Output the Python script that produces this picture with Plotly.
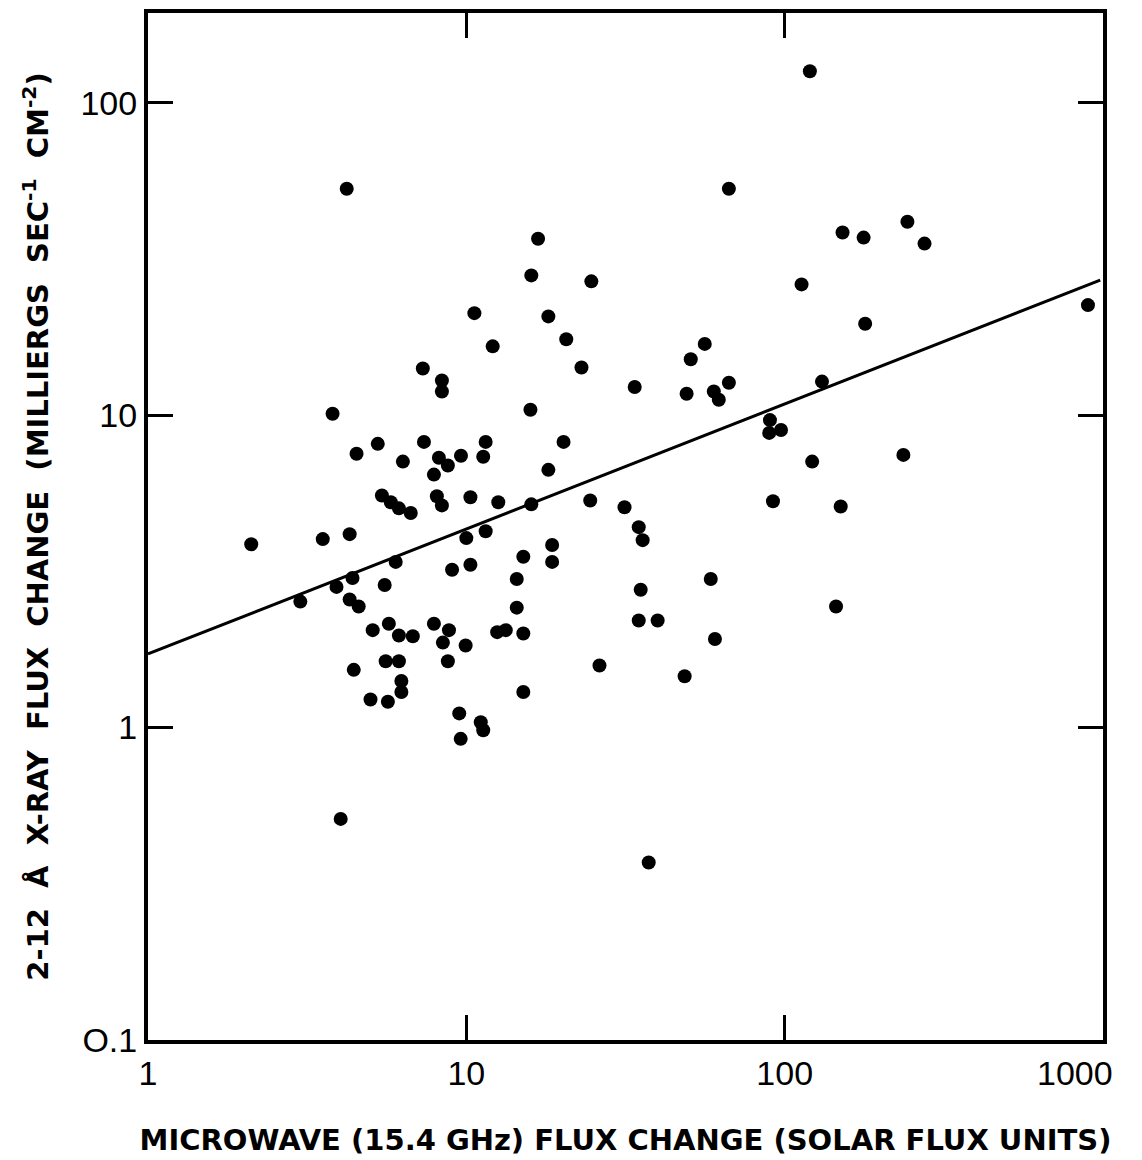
import plotly.graph_objects as go

microwave_sfu = [120, 4.21, 66.8, 243, 152, 177, 275, 16.8, 16.0, 24.7, 113, 897, 10.6, 18.1, 179,
                 20.6, 56.1, 12.1, 50.7, 23.0, 7.3, 8.38, 8.38, 66.8, 33.8, 59.9, 62.1, 49.2, 131,
                 3.80, 15.9, 89.9, 89.4, 97.4, 5.27, 7.36, 11.5, 20.2, 4.52, 6.32, 8.2, 8.75, 9.62,
                 11.3, 7.91, 18.1, 122, 236, 5.43, 5.79, 6.14, 6.69, 8.08, 8.38, 10.3, 12.6, 16.0,
                 24.5, 31.4, 91.9, 150, 2.11, 3.54, 4.30, 6.0, 10.0, 11.5, 34.8, 35.8, 18.6, 18.6,
                 15.1, 10.3, 9.02, 14.4, 58.6, 5.54, 3.91, 4.39, 3.01, 4.30, 4.59, 35.3, 14.4, 145,
                 5.08, 5.71, 6.14, 6.79, 7.91, 8.82, 12.5, 13.3, 15.1, 34.8, 39.9, 60.4, 8.44, 9.95,
                 4.43, 5.58, 6.14, 8.75, 26.2, 6.25, 6.25, 5.0, 5.67, 15.1, 48.5, 9.5, 11.1, 11.3,
                 9.6, 4.03, 37.4]
xray_flux = [126, 53, 53, 41.6, 38.4, 37, 35.4, 36.7, 28, 26.8, 26.2, 22.5, 21.2, 20.7, 19.6,
             17.5, 16.9, 16.6, 15.1, 14.2, 14.1, 12.9, 11.9, 12.7, 12.3, 11.9, 11.2, 11.7, 12.8,
             10.1, 10.4, 9.64, 8.77, 8.96, 8.09, 8.21, 8.21, 8.21, 7.52, 7.10, 7.3, 6.9, 7.41,
             7.36, 6.45, 6.68, 7.10, 7.46, 5.53, 5.26, 5.03, 4.86, 5.50, 5.14, 5.46, 5.26, 5.18,
             5.33, 5.07, 5.30, 5.10, 3.86, 4.01, 4.16, 3.39, 4.04, 4.25, 4.38, 3.98, 3.84, 3.39,
             3.52, 3.32, 3.20, 2.99, 2.99, 2.86, 2.82, 3.01, 2.53, 2.57, 2.44, 2.76, 2.42, 2.44,
             2.05, 2.15, 1.97, 1.96, 2.15, 2.05, 2.02, 2.05, 2.0, 2.20, 2.20, 1.92, 1.87, 1.83,
             1.53, 1.63, 1.63, 1.63, 1.58, 1.41, 1.30, 1.23, 1.21, 1.30, 1.46, 1.11, 1.04, 0.98,
             0.92, 0.51, 0.37]

# regression line y = A * x^B
FIT_A = 1.72
FIT_B = 0.40
fit_x = [1, 980]
fit_y = [FIT_A * v ** FIT_B for v in fit_x]

NB = "\u00a0"
x_ticks = [1, 10, 100]
x_tick_labels = ["1", "10", "100"]
x_end_value = 1000
x_end_label = "1000"
y_ticks = [0.1, 1, 10, 100]
y_tick_labels = ["O.1", "1", "10", "100"]

x_title = "MICROWAVE (15.4 GHz) FLUX CHANGE (SOLAR FLUX UNITS)"
y_title = (NB * 2).join(["2-12", "Å", "X-RAY", "FLUX", "CHANGE", "(MILLIERGS",
                         "SEC<sup>-1</sup>", "CM<sup>-2</sup>)"])

fig = go.Figure()
fig.add_trace(go.Scatter(x=fit_x, y=fit_y, mode="lines",
                         line=dict(color="black", width=3), showlegend=False))
fig.add_trace(go.Scatter(x=microwave_sfu, y=xray_flux, mode="markers",
                         marker=dict(color="black", size=14), showlegend=False))

tick_font = "Liberation Sans, Arial, sans-serif"
title_font = "DejaVu Sans, sans-serif"
fig.update_layout(
    width=1134, height=1152,
    margin=dict(l=140, r=39, t=1, b=120),
    paper_bgcolor="white", plot_bgcolor="white",
    font=dict(family=tick_font, color="black"),
)
fig.add_annotation(x=__import__("math").log10(x_end_value), xref="x", y=0, yref="paper",
                   text=x_end_label, showarrow=False, xanchor="center", yanchor="top",
                   xshift=-28, yshift=-12, font=dict(size=34, family=tick_font, color="black"))
fig.update_xaxes(
    type="log", range=[0, 3.0], tickvals=x_ticks, ticktext=x_tick_labels,
    ticks="inside", ticklen=25, tickwidth=3, tickcolor="black",
    showline=True, linewidth=4, linecolor="black", mirror="ticks",
    showgrid=False, zeroline=False, automargin="height",
    tickfont=dict(size=34, family=tick_font),
    title=dict(text=x_title, font=dict(size=29, family=title_font, weight="bold"), standoff=40),
)
fig.update_yaxes(
    type="log", range=[-1, 2.287], tickvals=y_ticks, ticktext=y_tick_labels,
    ticks="inside", ticklen=25, tickwidth=3, tickcolor="black",
    showline=True, linewidth=4, linecolor="black", mirror="ticks",
    showgrid=False, zeroline=False, automargin="width",
    tickfont=dict(size=34, family=tick_font),
    title=dict(text=y_title, font=dict(size=29, family=title_font, weight="bold"), standoff=24),
)

fig.write_html("out.html")
